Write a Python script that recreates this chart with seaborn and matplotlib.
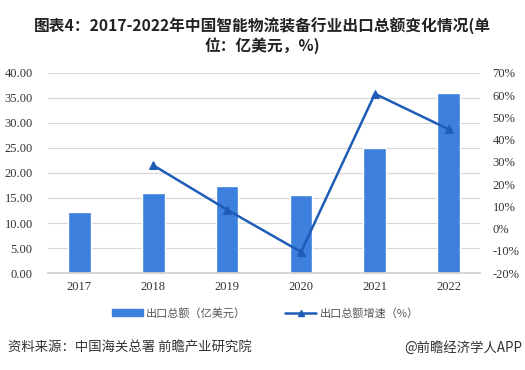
import numpy as np
import pandas as pd
import seaborn as sns
from matplotlib import pyplot as plt
from matplotlib.lines import Line2D
from matplotlib.patches import Patch
from matplotlib.ticker import FuncFormatter

years = ["2017", "2018", "2019", "2020", "2021", "2022"]
export_total = [12.3, 16.0, 17.3, 15.5, 24.9, 36.0]
export_growth = [np.nan, 28.5, 8.5, -10.5, 60.6, 44.6]

bar_name = "出口总额（亿美元）"
line_name = "出口总额增速（%）"
title = "图表4：2017-2022年中国智能物流装备行业出口总额变化情况(单\n位：亿美元，%)"

bar_color = "#3c7fdc"
line_color = "#1f5cb8"

df = pd.DataFrame({"year": years, "total": export_total, "growth": export_growth})
df["pos"] = np.arange(len(df))

sns.set_theme(style="white")
plt.rcParams["font.family"] = ["Noto Sans CJK SC", "DejaVu Sans"]

fig = plt.figure(figsize=(5.25, 3.7), dpi=100)
ax = fig.add_axes([0.0914, 0.262, 0.8229, 0.541])

sns.barplot(data=df, x="year", y="total", color=bar_color, width=0.31,
            saturation=1, ax=ax, zorder=2)
ax.set_ylim(0, 40)
ax.set_yticks(np.arange(0, 41, 5))
ax.yaxis.set_major_formatter(FuncFormatter(lambda v, p: f"{v:.2f}"))
ax.grid(axis="y", color="#d9d9d9", linewidth=0.9, zorder=0)
ax.set_xlabel("")
ax.set_ylabel("")

ax2 = ax.twinx()
sns.lineplot(data=df, x="pos", y="growth", color=line_color, marker="^",
             markersize=6, markeredgecolor=line_color, linewidth=1.8, ax=ax2)
ax2.set_ylim(-20, 70)
ax2.set_yticks(np.arange(-20, 71, 10))
ax2.yaxis.set_major_formatter(FuncFormatter(lambda v, p: f"{v:.0f}%"))
ax2.set_ylabel("")
ax2.set_xlim(ax.get_xlim())

for a in (ax, ax2):
    for s in a.spines.values():
        s.set_visible(False)
    a.tick_params(length=0, colors="#333333")
ax.spines["bottom"].set_visible(True)
ax.spines["bottom"].set_color("#d0d0d0")

for lab in ax.get_yticklabels() + ax2.get_yticklabels() + ax.get_xticklabels():
    lab.set_family("Liberation Serif")
    lab.set_fontsize(9)
ax.tick_params(axis="y", pad=11)
ax2.tick_params(axis="y", pad=9)
ax.tick_params(axis="x", pad=6)

handles = [Patch(color=bar_color),
           Line2D([0], [0], color=line_color, marker="^", markersize=5, linewidth=1.8)]
fig.legend(handles, [bar_name, line_name], loc="center", bbox_to_anchor=(0.505, 0.154),
           ncol=2, frameon=False, fontsize=8, handlelength=2.8, handleheight=0.6,
           columnspacing=3.5, handletextpad=0.3, labelcolor="#555555")

fig.text(0.5, 0.903, title, ha="center", va="center", fontsize=11.3,
         fontweight="bold", color="#222222", linespacing=1.1)
fig.text(0.015, 0.06, "资料来源：中国海关总署 前瞻产业研究院", ha="left", va="center",
         fontsize=9.6, color="#333333")
fig.text(0.995, 0.06, "@前瞻经济学人APP", ha="right", va="center",
         fontsize=9.6, color="#333333")

fig.savefig("out.png", dpi=100)
